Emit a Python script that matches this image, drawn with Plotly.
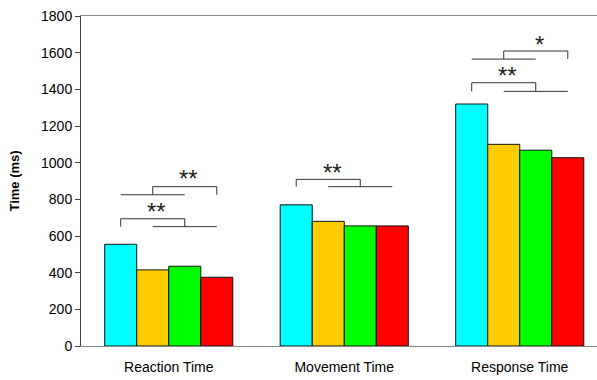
import plotly.graph_objects as go

categories = ["Reaction Time", "Movement Time", "Response Time"]
series_names = ["Condition 1", "Condition 2", "Condition 3", "Condition 4"]
series_colors = ["#00FFFF", "#FFCC00", "#00FF00", "#FF0000"]
values_c1 = [555, 770, 1320]
values_c2 = [415, 680, 1100]
values_c3 = [435, 655, 1068]
values_c4 = [375, 655, 1027]
y_ticks = [0, 200, 400, 600, 800, 1000, 1200, 1400, 1600, 1800]

# significance comparisons: (group, left bars, right bars, base level, top level, label, label level)
sig_group = [0, 0, 1, 2, 2]
sig_left = [[0], [0, 1, 2], [0], [0], [0, 1, 2]]
sig_right = [[1, 2, 3], [3], [1, 2, 3], [1, 2, 3], [3]]
sig_base = [651, 825, 869, 1389, 1565]
sig_top = [694, 869, 909, 1436, 1609]
sig_label = ["**", "**", "**", "**", "*"]
sig_label_y = [731, 911, 947, 1474, 1647]

series_values = [values_c1, values_c2, values_c3, values_c4]
BARGAP = 0.27
n_series = len(series_values)
bar_w = (1 - BARGAP) / n_series


def bar_center(g, i):
    return g - (1 - BARGAP) / 2 + bar_w * (i + 0.5)


fig = go.Figure()
xs = list(range(len(categories)))
for name, vals, col in zip(series_names, series_values, series_colors):
    fig.add_trace(go.Bar(
        x=xs, y=vals, name=name, marker=dict(color=col, line=dict(color="#111111", width=1)),
        showlegend=False, hoverinfo="y"))

lx, ly = [], []
for g, L, R, yb, yt, lab, lyy in zip(sig_group, sig_left, sig_right, sig_base, sig_top, sig_label, sig_label_y):
    if len(L) == 1:
        xl = bar_center(g, L[0])
    else:
        a, b = bar_center(g, L[0]), bar_center(g, L[-1])
        lx += [a, b, None]; ly += [yb, yb, None]
        xl = (a + b) / 2
    if len(R) == 1:
        xr = bar_center(g, R[0])
    else:
        a, b = bar_center(g, R[0]), bar_center(g, R[-1])
        lx += [a, b, None]; ly += [yb, yb, None]
        xr = (a + b) / 2
    lx += [xl, xl, xr, xr, None]
    ly += [yb, yt, yt, yb, None]
    fig.add_annotation(x=(xl + xr) / 2 + 0.022, y=lyy, text=lab, showarrow=False,
                       font=dict(family="Liberation Sans, Arial", size=24, color="#222222"),
                       xanchor="center", yanchor="middle")

fig.add_trace(go.Scatter(x=lx, y=ly, mode="lines", line=dict(color="#333333", width=1),
                         showlegend=False, hoverinfo="skip"))

fig.update_layout(
    width=597, height=380,
    margin=dict(l=81, r=0, t=16, b=34),
    paper_bgcolor="white", plot_bgcolor="white",
    barmode="group", bargap=BARGAP, bargroupgap=0,
    font=dict(family="Liberation Sans, Arial", size=14, color="#000000"),
    showlegend=False,
)
fig.update_xaxes(
    range=[-0.5, -0.5 + 516 / 175.5], tickvals=xs, ticktext=categories,
    showline=True, linecolor="#888888", linewidth=1, mirror=True,
    ticks="", showgrid=False, zeroline=False, ticklabelstandoff=8,
    tickfont=dict(size=14),
)
fig.update_yaxes(
    range=[0, 1800], tickvals=y_ticks, showgrid=False, zeroline=False,
    showline=True, linecolor="#444444", linewidth=1,
    ticks="outside", ticklen=5, tickcolor="#444444", tickfont=dict(size=14),
    title=dict(text="<b>Time (ms)</b>", font=dict(size=13), standoff=18),
)

fig.write_html("out.html", config={"displayModeBar": False},
               post_script="document.body.style.margin='0';")
